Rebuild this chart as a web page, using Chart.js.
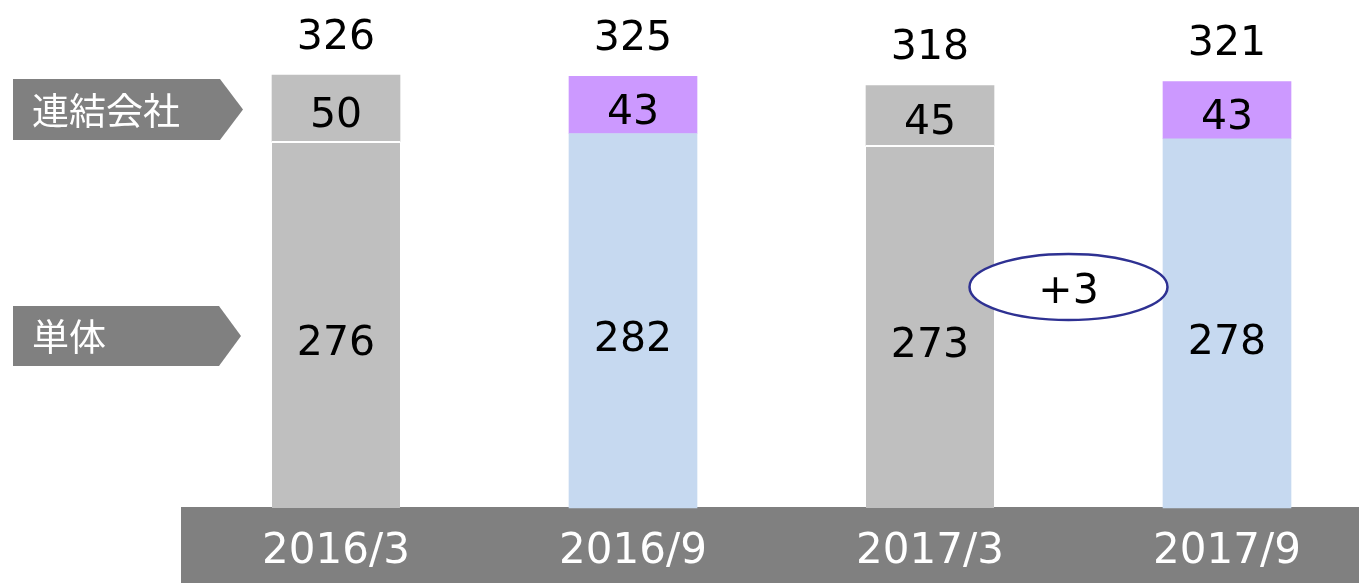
<!DOCTYPE html>
<html lang="ja">
<head>
<meta charset="UTF-8">
<title>連結会社・単体</title>
<style>
  html, body { margin: 0; padding: 0; background: #fff; }
  .chart-container { position: relative; width: 1359px; height: 583px; }
</style>
</head>
<body>
<div class="chart-container"><canvas id="staff-chart"></canvas></div>
<script src="https://cdn.jsdelivr.net/npm/chart.js"></script>
<script>
const periods = ['2016/3', '2016/9', '2017/3', '2017/9'];
const parentOnly = [276, 282, 273, 278];   // 単体
const subsidiaries = [50, 43, 45, 43];     // 連結会社
const seriesNames = ['単体', '連結会社'];
const diffLabel = '+3';

const GRAY = '#BFBFBF', BLUE = '#C6D9F0', PURPLE = '#CC99FF', BAND = '#808080';
const bottomColors = periods.map((_, i) => i % 2 === 0 ? GRAY : BLUE);
const topColors = periods.map((_, i) => i % 2 === 0 ? GRAY : PURPLE);
const totals = parentOnly.map((v, i) => v + subsidiaries[i]);
const NUM_FONT = '41px "DejaVu Sans", Verdana, sans-serif';
const JP_FONT = '37px "Noto Sans CJK JP", sans-serif';
const TEXT_SHIFT = 5; // DejaVu's 'middle' sits a little high on digits

function arrowLabel(ctx, top, bottom, bodyRight, tip, text) {
    ctx.beginPath();
    ctx.moveTo(13, top);
    ctx.lineTo(bodyRight, top);
    ctx.lineTo(tip, (top + bottom) / 2);
    ctx.lineTo(bodyRight, bottom);
    ctx.lineTo(13, bottom);
    ctx.closePath();
    ctx.fillStyle = BAND;
    ctx.fill();
    ctx.fillStyle = '#fff';
    ctx.font = JP_FONT;
    ctx.textAlign = 'left';
    ctx.textBaseline = 'middle';
    ctx.fillText(text, 32, (top + bottom) / 2 + 1);
}

const decorPlugin = {
    id: 'decor',
    beforeDraw(chart) {
        const { ctx, chartArea, width, height } = chart;
        ctx.save();
        ctx.fillStyle = BAND;
        ctx.fillRect(181, chartArea.bottom - 1, width - 181, height - chartArea.bottom + 1);
        ctx.restore();
    },
    afterDatasetsDraw(chart) {
        const { ctx } = chart;
        const xs = chart.scales.x;
        const bottomMeta = chart.getDatasetMeta(0);
        const topMeta = chart.getDatasetMeta(1);
        ctx.save();
        ctx.font = NUM_FONT;
        ctx.fillStyle = '#000';
        ctx.textAlign = 'center';
        ctx.textBaseline = 'middle';
        bottomMeta.data.forEach((bar, i) => {
            ctx.fillText(parentOnly[i], bar.x, (bar.y + bar.base) / 2 + 15 + TEXT_SHIFT);
        });
        topMeta.data.forEach((bar, i) => {
            ctx.fillText(subsidiaries[i], bar.x, (bar.y + bar.base) / 2 + 3 + TEXT_SHIFT);
            ctx.fillText(totals[i], bar.x, bar.y - 42 + TEXT_SHIFT);
        });

        // difference bubble between the last two periods
        const cx = (xs.getPixelForValue(2) + xs.getPixelForValue(3)) / 2 - 10;
        const cy = 287;
        ctx.beginPath();
        ctx.ellipse(cx, cy, 99, 33, 0, 0, Math.PI * 2);
        ctx.fillStyle = '#fff';
        ctx.fill();
        ctx.lineWidth = 2.5;
        ctx.strokeStyle = '#2E3192';
        ctx.stroke();
        ctx.fillStyle = '#000';
        ctx.fillText(diffLabel, cx, cy + TEXT_SHIFT);

        // series tags on the left
        arrowLabel(ctx, 79, 140, 220, 243, seriesNames[1]);
        arrowLabel(ctx, 306, 366, 219, 241, seriesNames[0]);
        ctx.restore();
    }
};

new Chart(document.getElementById('staff-chart'), {
    type: 'bar',
    data: {
        labels: periods,
        datasets: [
            {
                label: seriesNames[0],
                data: parentOnly,
                backgroundColor: bottomColors,
                borderColor: '#fff',
                borderSkipped: false,
                borderWidth: ctx => ctx.dataIndex % 2 === 0 ? { top: 2, left: 0, right: 0, bottom: 0 } : 0,
                barThickness: 128,
                clip: false
            },
            {
                label: seriesNames[1],
                data: subsidiaries,
                backgroundColor: topColors,
                borderWidth: 0,
                barThickness: 128,
                clip: false
            }
        ]
    },
    options: {
        responsive: true,
        maintainAspectRatio: false,
        animation: false,
        layout: { padding: { left: 336, right: 132, top: 0, bottom: 0 } },
        plugins: { legend: { display: false }, tooltip: { enabled: false } },
        scales: {
            x: {
                stacked: true,
                offset: false,
                grid: { display: false, drawTicks: false },
                border: { display: false },
                ticks: {
                    color: '#fff',
                    font: { family: '"DejaVu Sans", Verdana, sans-serif', size: 42 },
                    padding: 19,
                    maxRotation: 0,
                    autoSkip: false
                },
                afterFit: s => { s.height = 75; }
            },
            y: { stacked: true, display: false, min: 0, max: 382.5 }
        }
    },
    plugins: [decorPlugin]
});
</script>
</body>
</html>
